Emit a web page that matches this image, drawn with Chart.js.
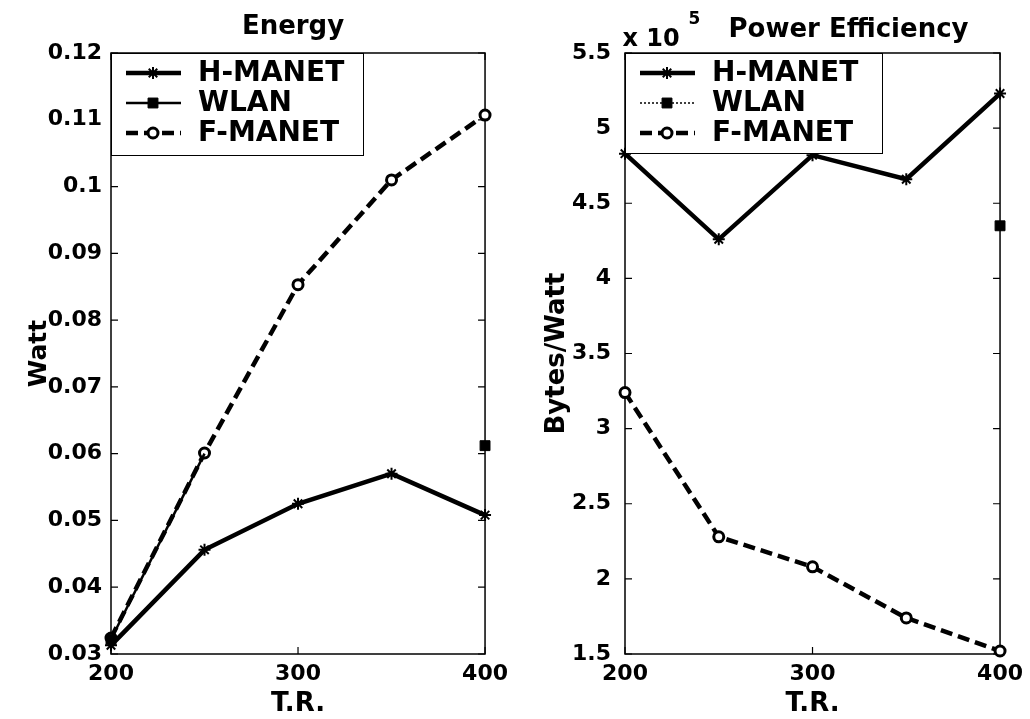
<!DOCTYPE html>
<html>
<head>
<meta charset="utf-8">
<title>Energy / Power Efficiency</title>
<script src="https://cdn.jsdelivr.net/npm/chart.js@4.4.0/dist/chart.umd.min.js"></script>
<style>
  html, body { margin: 0; padding: 0; background: #fff; }
  #contenedor { position: relative; width: 1030px; height: 719px; }
  canvas { position: absolute; top: 0; }
  #GraphEnergia { left: 0; }
  #GraphEficiencia { left: 515px; }
</style>
</head>
<body>
<div id="contenedor">
  <canvas id="GraphEnergia" width="515" height="719"></canvas>
  <canvas id="GraphEficiencia" width="515" height="719"></canvas>
</div>
<script>
// datos
var trValores = [200, 250, 300, 350, 400];
var ticksTR = [200, 300, 400];

var energiaHManet = [0.0313, 0.0456, 0.0525, 0.0570, 0.0508];
var energiaWlan = [0.0322, 0.0600, null, null, 0.0612];
var energiaFManet = [0.0324, 0.0601, 0.0853, 0.1010, 0.1107];
var ticksEnergia = [0.03, 0.04, 0.05, 0.06, 0.07, 0.08, 0.09, 0.1, 0.11, 0.12];

// eficiencia en unidades de 10^5 Bytes/Watt
var eficienciaHManet = [4.83, 4.26, 4.82, 4.66, 5.23];
var eficienciaWlan = [null, null, null, null, 4.35];
var eficienciaFManet = [3.24, 2.28, 2.08, 1.74, 1.52];
var ticksEficiencia = [1.5, 2, 2.5, 3, 3.5, 4, 4.5, 5, 5.5];

var fuente = "'DejaVu Sans', 'Liberation Sans', sans-serif";
Chart.defaults.font.family = fuente;
Chart.defaults.color = "#000";

window.onload = function () {
  GraficoEnergia();
  GraficoEficiencia();
};

function puntos(valores) {
  return trValores.map(function (x, i) {
    return { x: x, y: valores[i] };
  });
}

function formatoTick(v) {
  return String(Number(v.toFixed(2)));
}

// caja de ejes con marcas hacia adentro
const marcoEjes = {
  id: "marcoEjes",
  beforeDatasetsDraw(chart) {
    const { ctx, chartArea: a, scales } = chart;
    ctx.save();
    ctx.strokeStyle = "#000";
    ctx.lineWidth = 1.5;
    ctx.strokeRect(a.left, a.top, a.right - a.left, a.bottom - a.top);
    ctx.lineWidth = 1.2;
    ctx.beginPath();
    scales.y.ticks.forEach((t) => {
      const y = scales.y.getPixelForValue(t.value);
      ctx.moveTo(a.left, y);
      ctx.lineTo(a.left + 7, y);
      ctx.moveTo(a.right, y);
      ctx.lineTo(a.right - 7, y);
    });
    scales.x.ticks.forEach((t) => {
      const x = scales.x.getPixelForValue(t.value);
      ctx.moveTo(x, a.bottom);
      ctx.lineTo(x, a.bottom - 7);
      ctx.moveTo(x, a.top);
      ctx.lineTo(x, a.top + 7);
    });
    ctx.stroke();
    ctx.restore();
  },
};

// leyenda estilo matlab arriba a la izquierda
const leyendaCaja = {
  id: "leyendaCaja",
  afterDatasetsDraw(chart, args, opts) {
    const { ctx, chartArea: a } = chart;
    const x0 = a.left;
    const y0 = a.top;
    ctx.save();
    ctx.fillStyle = "#fff";
    ctx.fillRect(x0, y0, opts.ancho, opts.alto);
    ctx.strokeStyle = "#000";
    ctx.lineWidth = 1;
    ctx.strokeRect(x0 + 0.5, y0 + 0.5, opts.ancho, opts.alto);
    chart.data.datasets.forEach((ds, i) => {
      const y = y0 + 20 + i * 30;
      ctx.beginPath();
      ctx.setLineDash(ds.borderDash || []);
      ctx.lineWidth = ds.borderWidth;
      ctx.strokeStyle = "#000";
      ctx.moveTo(x0 + 15, y);
      ctx.lineTo(x0 + 70, y);
      ctx.stroke();
      ctx.setLineDash([]);
      ctx.fillStyle = ds.pointBackgroundColor;
      ctx.strokeStyle = ds.pointBorderColor;
      ctx.lineWidth = ds.pointBorderWidth;
      Chart.helpers.drawPoint(
        ctx,
        { pointStyle: ds.pointStyle, radius: opts.radios[i], borderWidth: ds.pointBorderWidth, rotation: 0 },
        x0 + 42,
        y
      );
      ctx.fillStyle = "#000";
      ctx.font = "bold 28px " + fuente;
      ctx.textAlign = "left";
      ctx.textBaseline = "middle";
      ctx.fillText(ds.label, x0 + 87, y + 1);
    });
    ctx.restore();
  },
};

// titulos y factor de escala
const textosExtra = {
  id: "textosExtra",
  afterDraw(chart, args, opts) {
    const { ctx, chartArea: a } = chart;
    ctx.save();
    ctx.fillStyle = "#000";
    ctx.textBaseline = "alphabetic";
    opts.textos.forEach((t) => {
      ctx.font = "bold " + t.size + "px " + fuente;
      ctx.textAlign = t.align;
      ctx.fillText(t.text, (a.left + a.right) / 2 + t.dx, t.y);
    });
    ctx.restore();
  },
};

function escalaX() {
  return {
    type: "linear",
    min: 200,
    max: 400,
    afterBuildTicks: (s) => {
      s.ticks = ticksTR.map((v) => ({ value: v }));
    },
    afterFit: (s) => {
      s.height = 65;
    },
    grid: { display: false, drawTicks: false },
    border: { display: false },
    ticks: { padding: 7, font: { size: 22, weight: "bold" }, color: "#000" },
    title: {
      display: true,
      text: "T.R.",
      color: "#000",
      font: { size: 26, weight: "bold", lineHeight: 1 },
      padding: { top: 0, bottom: 2 },
    },
  };
}

function GraficoEnergia() {
  const ctx = document.getElementById("GraphEnergia");

  window.graphEnergia = new Chart(ctx, {
    type: "line",
    data: {
      datasets: [
        {
          label: "H-MANET",
          data: puntos(energiaHManet),
          borderColor: "#000",
          borderWidth: 4.5,
          pointStyle: "star",
          pointRadius: 6,
          pointBorderWidth: 2,
          pointBorderColor: "#000",
          pointBackgroundColor: "#000",
        },
        {
          label: "WLAN",
          data: puntos(energiaWlan),
          borderColor: "#000",
          borderWidth: 2.5,
          pointStyle: "rect",
          pointRadius: [7, 0, 0, 0, 7],
          pointBorderWidth: 1,
          pointBorderColor: "#000",
          pointBackgroundColor: "#000",
        },
        {
          label: "F-MANET",
          data: puntos(energiaFManet),
          borderColor: "#000",
          borderWidth: 4.5,
          borderDash: [12, 6],
          pointStyle: "circle",
          pointRadius: 5,
          pointBorderWidth: 3,
          pointBorderColor: "#000",
          pointBackgroundColor: "#fff",
        },
      ],
    },
    options: {
      responsive: false,
      animation: false,
      spanGaps: false,
      clip: false,
      layout: { padding: { top: 53, right: 29, left: 0, bottom: 0 } },
      plugins: {
        legend: { display: false },
        tooltip: { enabled: false },
        leyendaCaja: { ancho: 252, alto: 102, radios: [6, 7, 5] },
        textosExtra: {
          textos: [{ text: "Energy", size: 26, dx: -5, y: 34, align: "center" }],
        },
      },
      scales: {
        x: escalaX(),
        y: {
          min: 0.03,
          max: 0.12,
          afterBuildTicks: (s) => {
            s.ticks = ticksEnergia.map((v) => ({ value: v }));
          },
          afterFit: (s) => {
            s.width = 111;
          },
          grid: { display: false, drawTicks: false },
          border: { display: false },
          ticks: { padding: 9, font: { size: 22, weight: "bold" }, color: "#000", callback: formatoTick },
          title: {
            display: true,
            text: "Watt",
            color: "#000",
            font: { size: 25, weight: "bold", lineHeight: 1 },
            padding: { top: 27, bottom: 0 },
          },
        },
      },
    },
    plugins: [marcoEjes, leyendaCaja, textosExtra],
  });
}

function GraficoEficiencia() {
  const ctx = document.getElementById("GraphEficiencia");

  window.graphEficiencia = new Chart(ctx, {
    type: "line",
    data: {
      datasets: [
        {
          label: "H-MANET",
          data: puntos(eficienciaHManet),
          borderColor: "#000",
          borderWidth: 4.5,
          pointStyle: "star",
          pointRadius: 6,
          pointBorderWidth: 2,
          pointBorderColor: "#000",
          pointBackgroundColor: "#000",
        },
        {
          label: "WLAN",
          data: puntos(eficienciaWlan),
          borderColor: "#000",
          borderWidth: 1.5,
          borderDash: [2, 2],
          pointStyle: "rect",
          pointRadius: 7,
          pointBorderWidth: 1,
          pointBorderColor: "#000",
          pointBackgroundColor: "#000",
        },
        {
          label: "F-MANET",
          data: puntos(eficienciaFManet),
          borderColor: "#000",
          borderWidth: 4.5,
          borderDash: [12, 6],
          pointStyle: "circle",
          pointRadius: 5,
          pointBorderWidth: 3,
          pointBorderColor: "#000",
          pointBackgroundColor: "#fff",
        },
      ],
    },
    options: {
      responsive: false,
      animation: false,
      spanGaps: false,
      clip: false,
      layout: { padding: { top: 53, right: 27, left: 0, bottom: 0 } },
      plugins: {
        legend: { display: false },
        tooltip: { enabled: false },
        leyendaCaja: { ancho: 257, alto: 100, radios: [6, 7, 5] },
        textosExtra: {
          textos: [
            { text: "Power Efficiency", size: 26, dx: 36, y: 37, align: "center" },
            { text: "x 10", size: 24, dx: -190, y: 46, align: "left" },
            { text: "5", size: 17, dx: -124, y: 24, align: "left" },
          ],
        },
      },
      scales: {
        x: escalaX(),
        y: {
          min: 1.5,
          max: 5.5,
          afterBuildTicks: (s) => {
            s.ticks = ticksEficiencia.map((v) => ({ value: v }));
          },
          afterFit: (s) => {
            s.width = 110;
          },
          grid: { display: false, drawTicks: false },
          border: { display: false },
          ticks: { padding: 14, font: { size: 22, weight: "bold" }, color: "#000", callback: formatoTick },
          title: {
            display: true,
            text: "Bytes/Watt",
            color: "#000",
            font: { size: 26, weight: "bold", lineHeight: 1 },
            padding: { top: 29, bottom: 0 },
          },
        },
      },
    },
    plugins: [marcoEjes, leyendaCaja, textosExtra],
  });
}
</script>
</body>
</html>
